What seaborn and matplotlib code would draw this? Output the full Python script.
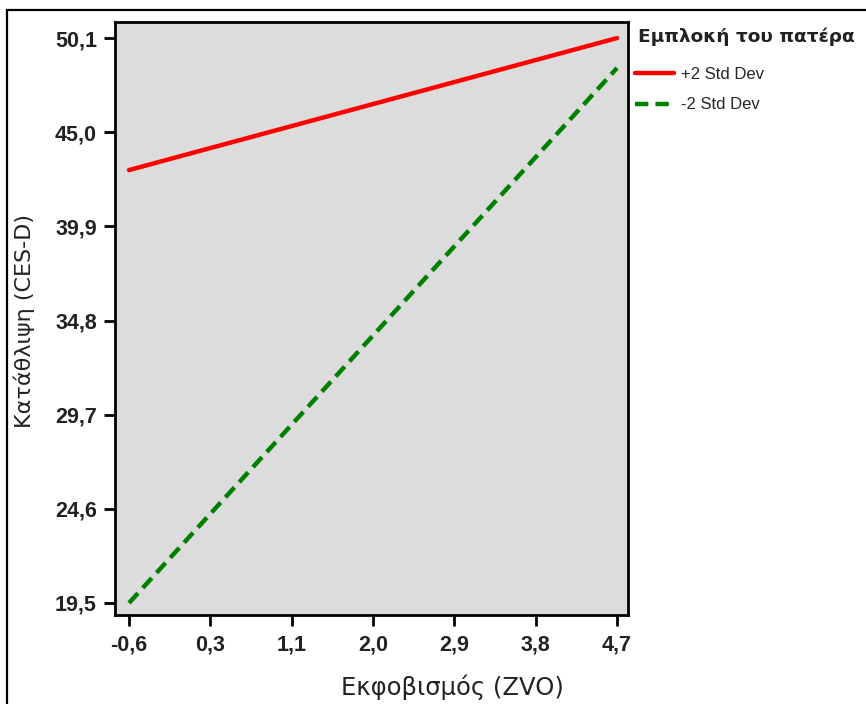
import numpy as np
import pandas as pd
import matplotlib
matplotlib.use('Agg')
import matplotlib.pyplot as plt
from matplotlib.lines import Line2D
import seaborn as sns

# data
zvo = [-0.63, 4.67]
plus2_sd = [42.95, 50.1]
minus2_sd = [19.5, 48.48]
groups = ['+2 Std Dev', '-2 Std Dev']

x_ticks = [-0.63, 0.253, 1.137, 2.02, 2.903, 3.787, 4.67]
x_labels = ['-0,6', '0,3', '1,1', '2,0', '2,9', '3,8', '4,7']
y_ticks = [19.5, 24.6, 29.7, 34.8, 39.9, 45.0, 50.1]
y_labels = ['19,5', '24,6', '29,7', '34,8', '39,9', '45,0', '50,1']

df = pd.DataFrame({
    'x': zvo + zvo,
    'y': plus2_sd + minus2_sd,
    'grp': [groups[0]] * 2 + [groups[1]] * 2,
})

sns.set_style('white')
plt.rcParams['font.family'] = ['Liberation Sans', 'DejaVu Sans']

fig = plt.figure(figsize=(8.66, 7.04), dpi=100)
ax = fig.add_axes([115 / 866, 1 - 615 / 704, (628 - 115) / 866, (615 - 22) / 704])
ax.set_facecolor('#dcdcdc')

sns.lineplot(data=df, x='x', y='y', hue='grp', style='grp',
             palette={groups[0]: '#ff0000', groups[1]: '#008000'},
             dashes={groups[0]: '', groups[1]: (3, 1.6)},
             linewidth=3.2, ax=ax)

ax.set_xlim(-0.782, 4.789)
ax.set_ylim(18.85, 50.97)
ax.set_xticks(x_ticks)
ax.set_xticklabels(x_labels)
ax.set_yticks(y_ticks)
ax.set_yticklabels(y_labels)

for lab in ax.get_xticklabels() + ax.get_yticklabels():
    lab.set_fontweight('bold')
    lab.set_fontsize(15.5)
    lab.set_color('#222222')

ax.tick_params(axis='both', direction='out', length=8, width=2, color='black',
               bottom=True, left=True, pad=5)
ax.tick_params(axis='x', pad=6)
for s in ax.spines.values():
    s.set_linewidth(2)
    s.set_color('black')

ax.set_xlabel('Εκφοβισμός (ZVO)', fontsize=17.5, color='#222222',
              family=['DejaVu Sans'])
ax.xaxis.set_label_coords(452 / 866, 1 - 674 / 704, transform=fig.transFigure)
ax.set_ylabel('Κατάθλιψη (CES-D)', fontsize=16, color='#222222',
              family=['DejaVu Sans'])
ax.yaxis.set_label_coords(35 / 866, 1 - 321 / 704, transform=fig.transFigure)

fig.text(638 / 866, 1 - 37 / 704, 'Εμπλοκή του πατέρα', ha='left', va='center',
         fontsize=13.3, fontweight='bold', family=['DejaVu Sans'], color='#222222')

handles, labels = ax.get_legend_handles_labels()
leg = ax.legend(handles, labels,
                loc='upper left', bbox_to_anchor=(635 / 866, 1 - 67 / 704),
                bbox_transform=fig.transFigure, frameon=False,
                fontsize=12, handlelength=2.35, handletextpad=0.4,
                labelspacing=0.92, borderpad=0, borderaxespad=0)

# outer frame of the original export
fig.add_artist(Line2D([7.5 / 866, 7.5 / 866], [0, 1 - 9.5 / 704], color='black', lw=1.6,
                      transform=fig.transFigure))
fig.add_artist(Line2D([7.5 / 866, 1], [1 - 9.5 / 704, 1 - 9.5 / 704], color='black', lw=1.6,
                      transform=fig.transFigure))

fig.savefig('out.png', dpi=100)
